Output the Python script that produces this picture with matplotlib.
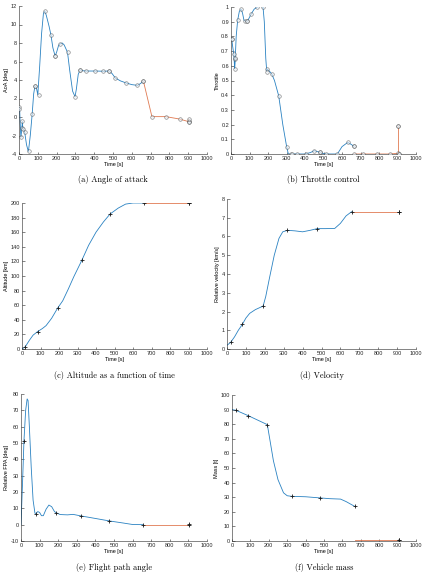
import numpy as np
import matplotlib.pyplot as plt
from matplotlib.ticker import FuncFormatter

BLUE = '#2a82c2'
ORANGE = '#e07a52'

aoa_t1 = [0, 3, 6, 10, 14, 18, 20, 25, 30, 40, 50, 60, 70, 78, 85, 92, 100, 110, 120, 130,
          137, 145, 160, 170, 180, 192, 200, 210, 218, 230, 240, 258, 270, 285, 298, 305,
          315, 325, 340, 355, 405, 450, 478, 495, 512, 540, 570, 600, 630, 645, 662]
aoa_v1 = [0.9, 1.05, -0.5, -2.2, -1.5, -0.5, -1.2, -1.4, -1.6, -3.0, -3.75, -2.0, 0.3, 2.5,
          3.35, 3.2, 2.4, 5.5, 9.0, 11.2, 11.45, 11.0, 9.8, 8.85, 7.5, 6.6, 7.0, 7.7, 7.9, 8.0,
          7.8, 7.0, 5.0, 2.8, 2.2, 3.0, 4.6, 5.1, 5.0, 4.97, 4.97, 4.95, 4.97, 4.7, 4.22, 3.9,
          3.68, 3.5, 3.42, 3.6, 3.86]
aoa_t2 = [662, 707, 781, 854, 902, 902]
aoa_v2 = [3.86, 0.04, 0.04, -0.22, -0.5, -0.25]
aoa_nodes_t = [1, 1, 10, 18, 17, 20, 32, 53, 71, 85, 85, 107, 139, 171, 192, 192, 218, 258, 298,
               325, 325, 355, 405, 449, 478, 478, 512, 570, 630, 662, 662, 707, 781, 854, 902,
               902, 902, 902]
aoa_nodes_v = [1.08, 0.9, -2.16, -0.43, -1.19, -1.3, -1.62, -3.71, 0.29, 3.39, 3.39, 2.41, 11.42,
               8.86, 6.59, 6.59, 7.89, 6.99, 2.16, 5.12, 5.12, 4.97, 4.97, 4.97, 4.97, 4.97,
               4.22, 3.68, 3.42, 3.86, 3.86, 0.04, 0.04, -0.22, -0.43, -0.54, -0.54, -0.2]

# (b) throttle
thr_t1 = [0, 3, 8, 15, 20, 22, 28, 36, 45, 54, 62, 70, 76, 88, 100, 108, 125, 142, 158, 173,
          180, 188, 193, 196, 210, 220, 235, 258, 280, 301, 310, 326, 400, 430, 450, 481, 500,
          515, 575, 600, 631, 650, 665]
thr_v1 = [0.78, 0.79, 0.74, 0.68, 0.58, 0.62, 0.8, 0.91, 0.97, 0.985, 0.96, 0.91, 0.905, 0.902,
          0.93, 0.95, 0.985, 1.0, 1.005, 1.0, 0.9, 0.65, 0.565, 0.578, 0.56, 0.545, 0.5, 0.395,
          0.2, 0.048, 0.0, 0.0, 0.0, 0.01, 0.023, 0.011, 0.003, 0.0, 0.0, 0.05, 0.079, 0.065, 0.052]
thr_t2 = [665, 711, 787, 859, 905, 905]
thr_v2 = [0.0, 0.0, 0.0, 0.0, 0.005, 0.19]
thr_nodes_t = [3.6, 4.5, 16, 20, 21.6, 22, 36, 54, 76, 88, 88, 108, 142, 173, 196, 193, 220, 258,
               301, 326, 328, 355, 404, 450, 481, 481, 515, 575, 631, 665, 665, 665, 711, 787,
               859, 905, 905, 905, 907, 907]
thr_nodes_v = [0.782, 0.78, 0.678, 0.649, 0.58, 0.655, 0.909, 0.984, 0.905, 0.902, 0.902, 0.95,
               1.0, 1.0, 0.578, 0.56, 0.544, 0.395, 0.048, 0.0, 0.0, 0.0, 0.0, 0.023, 0.011,
               0.011, 0.0, 0.0, 0.079, 0.052, 0.052, 0.0, 0.0, 0.0, 0.0, 0.007, 0.188, 0.188,
               0.0, 0.0]

# (c) altitude
alt_t1 = [0, 18, 40, 60, 84, 110, 130, 160, 192, 220, 250, 280, 323, 360, 400, 440, 476, 520,
          560, 600, 659]
alt_v1 = [0, 3.2, 12, 19, 23.8, 28, 32, 42, 55.8, 66, 82, 99, 121.3, 142, 160, 174, 184.9, 193,
          198.5, 200, 200]
alt_t2 = [659, 901]
alt_v2 = [200, 200]
alt_nodes_t = [18, 84, 192, 323, 476, 659, 901, 903]
alt_nodes_v = [3.2, 23.8, 55.8, 121.3, 184.9, 200, 200, 200]

# (d) velocity
vel_t1 = [0, 19, 40, 60, 81, 100, 120, 150, 191, 205, 225, 250, 275, 295, 320, 360, 400, 440,
          477, 520, 570, 600, 630, 659]
vel_v1 = [0.2, 0.35, 0.65, 1.0, 1.31, 1.65, 1.9, 2.1, 2.29, 2.8, 3.8, 5.0, 5.9, 6.25, 6.33, 6.3,
          6.25, 6.33, 6.42, 6.42, 6.43, 6.7, 7.1, 7.32]
vel_t2 = [659, 908]
vel_v2 = [7.32, 7.32]
vel_nodes_t = [19, 81, 191, 320, 477, 659, 908, 910]
vel_nodes_v = [0.35, 1.31, 2.29, 6.33, 6.42, 7.32, 7.32, 7.3]

# (e) flight path angle
fpa_t1 = [0, 8, 16, 25, 33, 38, 45, 55, 65, 75, 80, 90, 100, 110, 120, 135, 150, 165, 180, 188,
          210, 250, 280, 320, 400, 474, 550, 600, 657]
fpa_v1 = [0, 25, 51.5, 70, 77, 76, 60, 35, 15, 7, 6.8, 8, 7.5, 5.5, 5.5, 9.5, 12, 11, 8, 7.4,
          6.2, 6.0, 6.3, 5.4, 3.8, 2.3, 1.0, 0.1, 0]
fpa_t2 = [657, 902]
fpa_v2 = [0, 0]
fpa_nodes_t = [16, 80, 188, 320, 474, 657, 902, 904]
fpa_nodes_v = [51.5, 6.8, 7.4, 5.4, 2.3, 0, 0, 0.5]

# (f) mass
mass_t1 = [0, 22, 89, 192, 205, 225, 250, 280, 300, 324, 400, 480, 530, 590, 620, 667]
mass_v1 = [90, 89.5, 85.8, 79.7, 70, 55, 42, 33, 31, 30.6, 30.3, 29.5, 29, 28.7, 27, 23.7]
mass_t2 = [667, 908]
mass_v2 = [0.7, 0.7]
mass_nodes_t = [22, 89, 192, 324, 480, 667, 908, 910]
mass_nodes_v = [89.5, 85.8, 79.7, 30.6, 29.5, 23.7, 0.8, 1.0]

captions = ['(a) Angle of attack', '(b) Throttle control', '(c) Altitude as a function of time',
            '(d) Velocity', '(e) Flight path angle', '(f) Vehicle mass']
ylabels = ['AoA [deg]', 'Throttle', 'Altitude [km]', 'Relative velocity [km/s]',
           'Relative FPA [deg]', 'Mass [t]']

W, H = 429, 574
# (left, right, top, bottom) in pixels
boxes = [(19, 207, 6, 154), (231, 416, 7, 154), (22, 207, 203, 349),
         (227, 416, 199, 349), (21, 207, 394, 541), (232, 416, 395, 541)]
caption_y = [180, 180, 375, 375, 568, 568]
ylims = [(-4, 12, 2), (0, 1, 0.1), (0, 200, 20), (0, 8, 1), (-10, 80, 10), (0, 100, 10)]

series = [
    (aoa_t1, aoa_v1, aoa_t2, aoa_v2, aoa_nodes_t, aoa_nodes_v, 'o'),
    (thr_t1, thr_v1, thr_t2, thr_v2, thr_nodes_t, thr_nodes_v, 'o'),
    (alt_t1, alt_v1, alt_t2, alt_v2, alt_nodes_t, alt_nodes_v, '+'),
    (vel_t1, vel_v1, vel_t2, vel_v2, vel_nodes_t, vel_nodes_v, '+'),
    (fpa_t1, fpa_v1, fpa_t2, fpa_v2, fpa_nodes_t, fpa_nodes_v, '+'),
    (mass_t1, mass_v1, mass_t2, mass_v2, mass_nodes_t, mass_nodes_v, '+'),
]

fig = plt.figure(figsize=(W / 100, H / 100), dpi=100)
tick_font = dict(family='Liberation Sans', size=4)

for i, (t1, v1, t2, v2, nt, nv, mk) in enumerate(series):
    l, r, top, bot = boxes[i]
    ax = fig.add_axes([l / W, 1 - bot / H, (r - l) / W, (bot - top) / H])
    ax.plot(t1, v1, color=BLUE, lw=0.6, zorder=2)
    ax.plot(t2, v2, color=ORANGE, lw=0.6, zorder=2)
    if mk == 'o':
        ax.plot(nt, nv, 'o', ms=2.6, mfc='#e8eef3', mec='#3c3c3c', mew=0.45, alpha=0.6, zorder=3)
    else:
        ax.plot(nt, nv, '+', ms=3, color='#1a1a1a', mew=0.6, zorder=3)
    lo, hi, st = ylims[i]
    ax.set_xlim(0, 1000)
    ax.set_ylim(lo, hi)
    ax.set_xticks(np.arange(0, 1001, 100))
    ax.set_yticks(np.arange(lo, hi + st / 2, st))
    ax.yaxis.set_major_formatter(FuncFormatter(lambda v, p: '%g' % round(v, 3)))
    for s in ['top', 'right']:
        ax.spines[s].set_visible(False)
    for s in ['left', 'bottom']:
        ax.spines[s].set_linewidth(0.4)
        ax.spines[s].set_color('#262626')
    ax.tick_params(direction='in', length=1.8, width=0.4, pad=1.5, colors='#262626',
                   labelsize=4)
    for lab in ax.get_xticklabels() + ax.get_yticklabels():
        lab.set_family('Liberation Sans')
    ax.set_xlabel('Time [s]', fontdict=tick_font, labelpad=1)
    ax.set_ylabel(ylabels[i], fontdict=tick_font, labelpad=1)
    cx = (l + r) / 2 / W
    fig.text(cx, 1 - caption_y[i] / H, captions[i], family='cmr10', size=6,
             ha='center', va='center')

fig.savefig('out.png', dpi=100)
